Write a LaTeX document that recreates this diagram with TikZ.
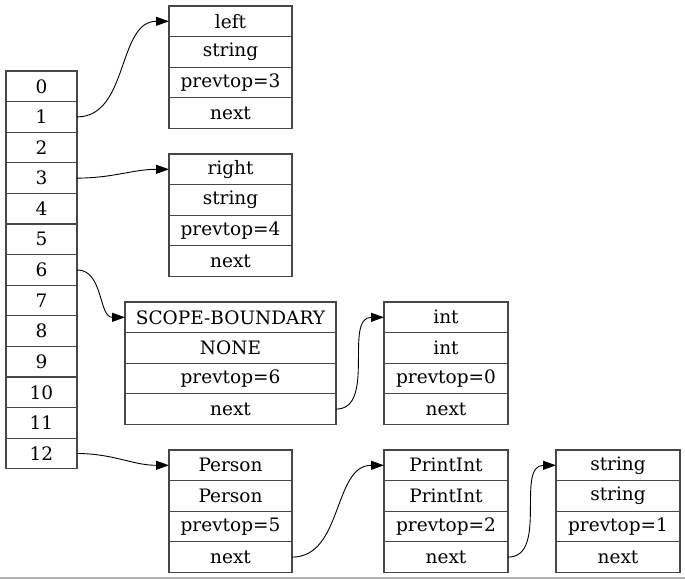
\documentclass[tikz,border=0pt]{standalone}
\usepackage{fontspec}
\setmainfont{DejaVu Serif}
\usetikzlibrary{positioning,arrows.meta}

\tikzset{
  cell/.style={draw=black!72, line width=1.1pt, minimum height=30.6pt,
    inner sep=0pt, outer sep=0pt, font=\fontsize{18.5}{20}\selectfont},
  ptr/.style={-{Triangle[length=13pt,width=9pt]}, line width=0.9pt},
}

% record: name, x, y, width, field 1, field 2, field 3
\newcommand{\record}[7]{%
  \node[cell, minimum width=#4pt, anchor=north west] (#11) at (#2pt,-#3pt) {#5};
  \node[cell, minimum width=#4pt, below=0pt of #11] (#12) {#6};
  \node[cell, minimum width=#4pt, below=0pt of #12] (#13) {#7};
  \node[cell, minimum width=#4pt, below=0pt of #13] (#14) {next};
}

\begin{document}
\begin{tikzpicture}
\useasboundingbox (0,0) rectangle (685pt,-579pt);

% hash table
\node[cell, minimum width=71pt, anchor=north west] (a0) at (6pt,-71pt) {0};
\foreach \i [remember=\i as \prev (initially 0)] in {1,...,12}
  \node[cell, minimum width=71pt, below=0pt of a\prev] (a\i) {\i};

% bindings
\record{left}{169}{6}{123}{left}{string}{prevtop=3}
\record{right}{169}{154}{123}{right}{string}{prevtop=4}
\record{scope}{125}{302}{211}{SCOPE-BOUNDARY}{NONE}{prevtop=6}
\record{int}{384}{302}{124}{int}{int}{prevtop=0}
\record{person}{169}{450}{123}{Person}{Person}{prevtop=5}
\record{print}{384}{450}{124}{PrintInt}{PrintInt}{prevtop=2}
\record{str}{556}{450}{124}{string}{string}{prevtop=1}

% pointers
\draw[ptr] (a1.east) to[out=0,in=180] (left1.west);
\draw[ptr] (a3.east) to[out=0,in=180] (right1.west);
\draw[ptr] (a6.east) to[out=0,in=180] (scope1.west);
\draw[ptr] (a12.east) to[out=0,in=180] (person1.west);
\draw[ptr] (scope4.east) to[out=0,in=180] (int1.west);
\draw[ptr] (person4.east) to[out=0,in=180] (print1.west);
\draw[ptr] (print4.east) to[out=0,in=180] (str1.west);

\draw[black!30, line width=1.5pt] (0,-578pt) -- (685pt,-578pt);
\end{tikzpicture}
\end{document}
